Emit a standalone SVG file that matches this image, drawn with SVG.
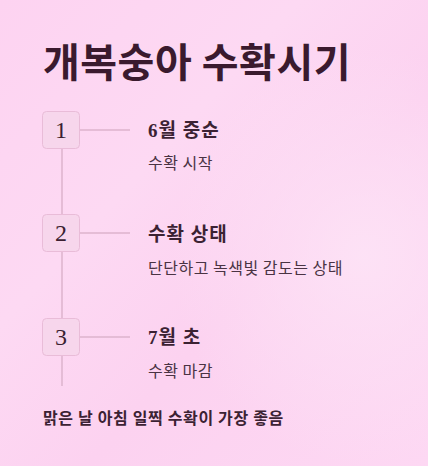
<svg xmlns="http://www.w3.org/2000/svg" width="428" height="466" viewBox="0 0 428 466">
<defs>
<linearGradient id="bg" x1="0" y1="0" x2="1" y2="1">
<stop offset="0" stop-color="#fdd3f1"/>
<stop offset="0.35" stop-color="#fdd9f3"/>
<stop offset="0.6" stop-color="#fcd2f0"/>
<stop offset="1" stop-color="#fdd8f3"/>
</linearGradient>
<radialGradient id="glow" cx="0.85" cy="0.55" r="0.45">
<stop offset="0" stop-color="#fde3f6" stop-opacity="0.9"/>
<stop offset="1" stop-color="#fde3f6" stop-opacity="0"/>
</radialGradient>
<style>
.box{fill:#f7d6ec;stroke:#e9bcd8;stroke-width:1}
.num{font-family:"Liberation Serif","Noto Sans CJK KR",serif;font-size:24px;fill:#3b1f31;text-anchor:middle}
.ttl{font-family:"Liberation Serif","Noto Sans CJK KR",serif;font-size:19px;font-weight:bold;fill:#3b2233;letter-spacing:1px}
.sub{font-family:"Noto Sans CJK KR",sans-serif;font-size:16px;fill:#4a3343;letter-spacing:0.5px}
.conn line{stroke:#dcb3cc;stroke-width:1.5}
</style>
</defs>
<rect width="428" height="466" fill="url(#bg)"/>
<rect width="428" height="466" fill="url(#glow)"/>
<text x="43" y="77" font-family="Noto Sans CJK KR, sans-serif" font-size="40" font-weight="bold" letter-spacing="0.5" fill="#3a1a2e">개복숭아 수확시기</text>
<g id="connectors" class="conn">
<line x1="62" y1="148" x2="62" y2="214"/>
<line x1="62" y1="252" x2="62" y2="318"/>
<line x1="62" y1="355" x2="62" y2="386"/>
<line x1="80" y1="130" x2="130" y2="130"/>
<line x1="80" y1="233" x2="130" y2="233"/>
<line x1="80" y1="337" x2="130" y2="337"/>
</g>
<g id="step1">
<rect class="box" x="42.5" y="111.5" width="37" height="37" rx="4"/>
<text class="num" x="61" y="138">1</text>
<text class="ttl" x="148" y="137">6월 중순</text>
<text class="sub" x="148" y="169">수확 시작</text>
</g>
<g id="step2">
<rect class="box" x="42.5" y="214.5" width="37" height="37" rx="4"/>
<text class="num" x="61" y="241">2</text>
<text class="ttl" x="148" y="241">수확 상태</text>
<text class="sub" x="148" y="274">단단하고 녹색빛 감도는 상태</text>
</g>
<g id="step3">
<rect class="box" x="42.5" y="318.5" width="37" height="37" rx="4"/>
<text class="num" x="61" y="345">3</text>
<text class="ttl" x="148" y="344">7월 초</text>
<text class="sub" x="148" y="377">수확 마감</text>
</g>
<text x="43" y="424" font-family="Noto Sans CJK KR, sans-serif" font-size="16" font-weight="bold" letter-spacing="0.65" fill="#3b2233">맑은 날 아침 일찍 수확이 가장 좋음</text>
</svg>
